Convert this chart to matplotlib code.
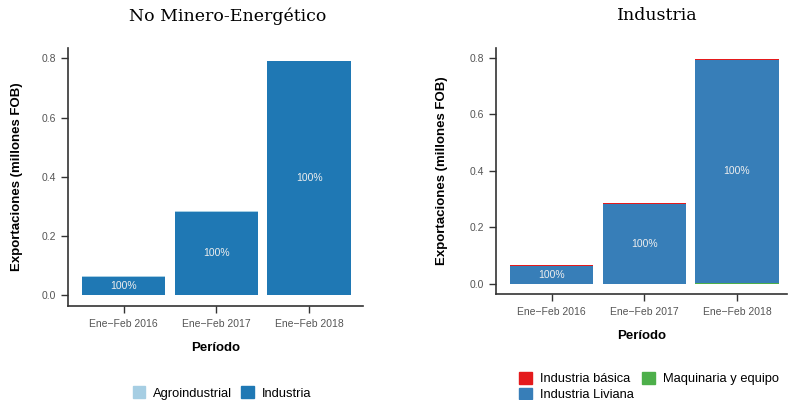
import matplotlib
matplotlib.use("Agg")
import matplotlib.pyplot as plt
from matplotlib.patches import Patch
import numpy as np

plt.rcParams['font.family'] = ['Liberation Sans', 'DejaVu Sans']

periodos = ["Ene\u2212Feb 2016", "Ene\u2212Feb 2017", "Ene\u2212Feb 2018"]

# No Minero-Energetico (stacked, bottom -> top)
nme_series = ["Industria", "Agroindustrial"]
nme_industria = [0.062, 0.281, 0.790]
nme_agro = [0.002, 0.002, 0.002]
nme_colors = ["#1f78b4", "#a6cee3"]
nme_labels = ["100%", "100%", "100%"]

# Industria (stacked, bottom -> top)
ind_series = ["Maquinaria y equipo", "Industria Liviana", "Industria básica"]
ind_maquinaria = [0.0, 0.0, 0.002]
ind_liviana = [0.063, 0.283, 0.792]
ind_basica = [0.002, 0.002, 0.002]
ind_colors = ["#4daf4a", "#377eb8", "#e41a1c"]
ind_labels = ["100%", "100%", "100%"]

W, H = 788, 400
fig = plt.figure(figsize=(W / 100, H / 100), dpi=100)


def panel(rect, stacks, colors, labels, label_idx, title, title_x, xlim,
          ylab_x, xlab_y):
    l, t, r, b = rect
    ax = fig.add_axes([l / W, (H - b) / H, (r - l) / W, (b - t) / H])
    x = np.arange(1, len(periodos) + 1)
    bottom = np.zeros(len(periodos))
    for i, (vals, c) in enumerate(zip(stacks, colors)):
        vals = np.array(vals)
        ax.bar(x, vals, width=0.9, bottom=bottom, color=c, linewidth=0)
        if i == label_idx:
            for xi, bi, vi, lab in zip(x, bottom, vals, labels):
                ax.text(xi, bi + vi / 2, lab, ha='center', va='center',
                        color='#eeeeee', fontsize=7.5)
        bottom = bottom + vals
    ax.set_xlim(*xlim)
    ax.set_ylim(-0.037, 0.835)
    ax.set_yticks([0.0, 0.2, 0.4, 0.6, 0.8])
    ax.set_yticklabels(["0.0", "0.2", "0.4", "0.6", "0.8"])
    ax.set_xticks(x)
    ax.set_xticklabels(periodos)
    for s in ['top', 'right']:
        ax.spines[s].set_visible(False)
    for s in ['left', 'bottom']:
        ax.spines[s].set_color('#333333')
        ax.spines[s].set_linewidth(1.2)
    ax.tick_params(colors='#333333', labelcolor='#555555', labelsize=7.5,
                   length=5, width=1)
    ax.tick_params(axis='x', pad=4.5)
    ax.set_xlabel("Período", fontsize=9.5, fontweight='bold')
    ax.set_ylabel("Exportaciones (millones FOB)", fontsize=9.5, fontweight='bold')
    ax.xaxis.set_label_coords(0.5, xlab_y)
    ax.yaxis.set_label_coords(ylab_x, 0.5)
    fig.text(title_x / W, 1 - 16 / H, title, ha='center', va='center',
             fontsize=12.5, family='DejaVu Serif')
    return ax


panel((68, 48, 363, 306), [nme_industria, nme_agro], nme_colors, nme_labels, 0,
      "No Minero-Energético", 228, (0.4, 3.58), -0.153, -0.14)
panel((496, 48, 787, 294), [ind_maquinaria, ind_liviana, ind_basica], ind_colors,
      ind_labels, 1, "Industria", 657, (0.4, 3.54), -0.165, -0.148)

leg_kw = dict(frameon=False, fontsize=9.3, handlelength=1.0, handleheight=1.0,
              handletextpad=0.6, columnspacing=0.7, labelspacing=0.2,
              borderpad=0, borderaxespad=0)

h1 = [Patch(color="#a6cee3", label="Agroindustrial"),
      Patch(color="#1f78b4", label="Industria")]
fig.legend(handles=h1, loc='center', bbox_to_anchor=(222 / W, 1 - 393 / H),
           ncol=2, **leg_kw)

h2 = [Patch(color="#e41a1c", label="Industria básica"),
      Patch(color="#377eb8", label="Industria Liviana"),
      Patch(color="#4daf4a", label="Maquinaria y equipo")]
fig.legend(handles=h2, loc='center', bbox_to_anchor=(649 / W, 1 - 386.5 / H),
           ncol=2, **leg_kw)

fig.savefig("out.png", dpi=100)
